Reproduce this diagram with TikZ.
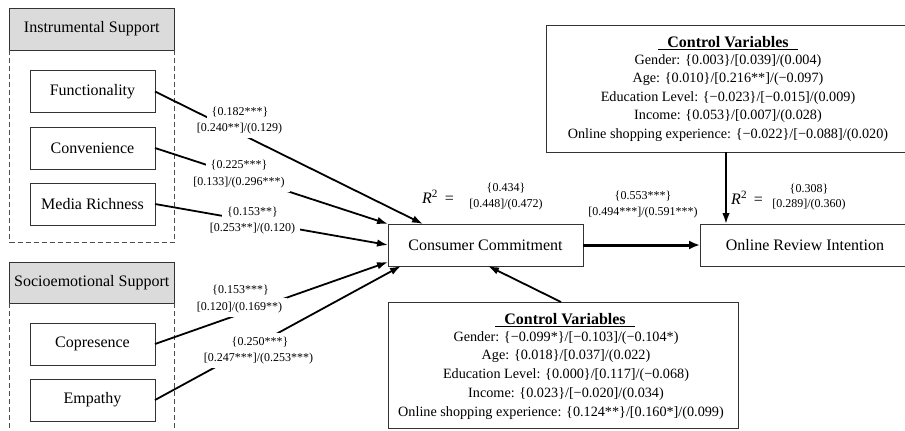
\documentclass[tikz,border=0pt]{standalone}
\usepackage{fontspec}
\setmainfont{Liberation Serif}
\usetikzlibrary{arrows.meta}
\begin{document}
\begin{tikzpicture}[x=1pt,y=-1pt,
  box/.style={draw=black!80, line width=0.8pt, fill=white, font=\fontsize{16}{19}\selectfont, inner sep=0pt, outer sep=0pt, anchor=north west, minimum width=125pt, minimum height=42pt},
  head/.style={box, fill=black!14, minimum width=164.5pt},
  grp/.style={draw=black!70, line width=0.8pt, dash pattern=on 5pt off 3pt},
  arr/.style={line width=1.8pt, -{Latex[length=11pt,width=7.5pt]}},
  lab/.style={fill=white, inner xsep=5pt, inner ysep=4pt, font=\fontsize{12}{14}\selectfont},
  cvt/.style={font=\fontsize{14.2}{17}\selectfont, inner sep=0pt},
  cvh/.style={font=\bfseries\fontsize{16}{19}\selectfont, inner sep=0pt},
  rsq/.style={font=\fontsize{16}{19}\selectfont, inner sep=0pt},
  val/.style={font=\fontsize{12}{14}\selectfont, inner sep=0pt}
]
\useasboundingbox (0,0) rectangle (905,431);

% left groups
\node[head, minimum height=42pt] (ish) at (9.5,8) {Instrumental Support};
\draw[grp] (ish.south west) -- ++(0,192) -- ++(164.5,0) -- (ish.south east);
\node[box] (fun) at (30,70.5) {Functionality};
\node[box] (con) at (30,127) {Convenience};
\node[box] (med) at (30,183) {Media Richness};

\node[head, minimum height=41pt] (ses) at (9.5,262) {Socioemotional Support};
\draw[grp] (ses.south west) -- ++(0,135);
\draw[grp] (ses.south east) -- ++(0,135);
\node[box] (cop) at (30,323) {Copresence};
\node[box] (emp) at (30,379) {Empathy};

% main constructs
\node[box, minimum width=195pt] (cc) at (388,224) {Consumer Commitment};
\node[box, minimum width=210pt] (ori) at (700,224) {Online Review Intention};

% control variable boxes
\node[box, minimum width=364pt, minimum height=127pt] (cvA) at (546,25) {};
\node[cvh] (cvAt) at (728,41.7) {Control Variables};
\draw[line width=1.1pt] ([xshift=-9pt,yshift=-2.5pt]cvAt.base west) -- ([xshift=9pt,yshift=-2.5pt]cvAt.base east);
\node[cvt] (a1) at (728,61) {Gender: \{0.003\}/[0.039]/(0.004)};
\node[cvt] (a2) at (728,79.5) {Age: \{0.010\}/[0.216**]/(−0.097)};
\node[cvt] (a3) at (728,98) {Education Level: \{−0.023\}/[−0.015]/(0.009)};
\node[cvt] (a4) at (728,116.5) {Income: \{0.053\}/[0.007]/(0.028)};
\node[cvt] (a5) at (728,135) {Online shopping experience: \{−0.022\}/[−0.088]/(0.020)};

\node[box, minimum width=350pt, minimum height=126pt] (cvB) at (388,302) {};
\node[cvh] (cvBt) at (565,319) {Control Variables};
\draw[line width=1.1pt] ([xshift=-9pt,yshift=-2.5pt]cvBt.base west) -- ([xshift=9pt,yshift=-2.5pt]cvBt.base east);
\node[cvt] (b1) at (566,337.7) {Gender: \{−0.099*\}/[−0.103]/(−0.104*)};
\node[cvt] (b2) at (566,356.5) {Age: \{0.018\}/[0.037]/(0.022)};
\node[cvt] (b3) at (566,375.2) {Education Level: \{0.000\}/[0.117]/(−0.068)};
\node[cvt] (b4) at (566,394) {Income: \{0.023\}/[−0.020]/(0.034)};
\node[cvt] (b5) at (561,412.8) {Online shopping experience: \{0.124**\}/[0.160*]/(0.099)};

% R squared
\node[rsq] (r1) at (438,197) {\textit{R}\textsuperscript{2}\, =};
\node[val] (r1a) at (506,188.5) {\{0.434\}};
\node[val] (r1b) at (506,205) {[0.448]/(0.472)};
\node[rsq] (r2) at (747,198) {\textit{R}\textsuperscript{2}\, =};
\node[val] (r2a) at (809,189) {\{0.308\}};
\node[val] (r2b) at (809,205) {[0.289]/(0.360)};

% arrows
\draw[arr] (fun.east) -- ([xshift=35pt]cc.north west);
\draw[arr] (con.east) -- (cc.north west);
\draw[arr] (med.east) -- (cc.west);
\draw[arr] (cop.east) -- ([yshift=4pt]cc.south west);
\draw[arr] (emp.east) -- ([xshift=13pt]cc.south west);
\draw[arr] ([xshift=-2pt]cvB.north) -- ([xshift=100pt]cc.south west);
\draw[line width=3pt, -{Latex[length=11pt,width=9pt]}] (cc.east) -- (ori.west);
\coordinate (oin) at ([xshift=26pt]ori.north west);
\draw[arr] (cvA.south -| oin) -- (oin);

% path labels (white boxes interrupt the lines)
\node[lab] (l1a) at (240,112.3) {\{0.182***\}};
\node[lab] (l1b) at (239.5,129) {[0.240**]/(0.129)};
\node[lab] (l2a) at (239,165) {\{0.225***\}};
\node[lab] (l2b) at (239,182.7) {[0.133]/(0.296***)};
\node[lab] (l3a) at (252.5,211.7) {\{0.153**\}};
\node[lab] (l3b) at (252.5,229) {[0.253**]/(0.120)};
\node[lab] (l4a) at (240.5,290) {\{0.153***\}};
\node[lab] (l4b) at (239.5,307.7) {[0.120]/(0.169**)};
\node[lab] (l5a) at (260,341.7) {\{0.250***\}};
\node[lab] (l5b) at (258.5,358.3) {[0.247***]/(0.253***)};
\node[lab] (l6a) at (643,196) {\{0.553***\}};
\node[lab] (l6b) at (643,213) {[0.494***]/(0.591***)};
\end{tikzpicture}
\end{document}
